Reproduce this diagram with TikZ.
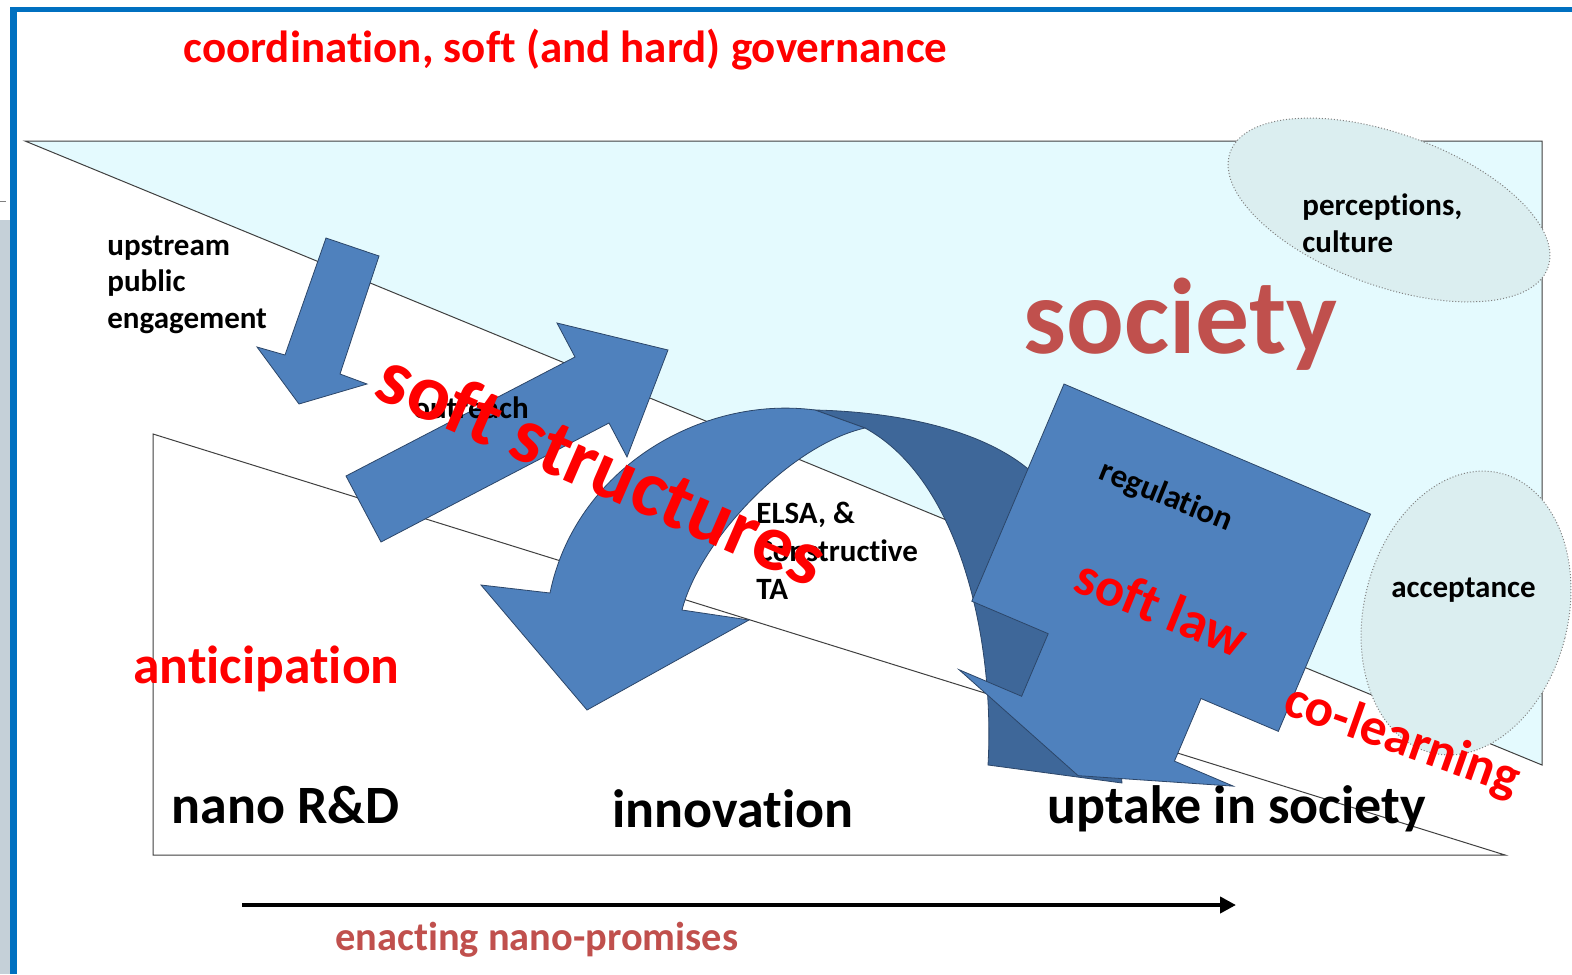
\documentclass[tikz,border=0pt]{standalone}
\usepackage{fontspec}
\setmainfont{Carlito}[Ligatures=NoCommon]
\usetikzlibrary{positioning, arrows.meta, shapes.geometric}

\definecolor{frameblue}{RGB}{0,112,192}
\definecolor{stripgray}{RGB}{197,208,216}
\definecolor{societycyan}{RGB}{228,250,254}
\definecolor{bubblefill}{RGB}{219,238,240}
\definecolor{arrowblue}{RGB}{79,129,189}
\definecolor{arrowdark}{RGB}{62,103,153}
\definecolor{arrowedge}{RGB}{44,70,105}
\definecolor{labelred}{RGB}{255,0,0}
\definecolor{brick}{RGB}{192,80,77}

\newcommand{\fsz}[1]{\fontsize{#1}{#1}\selectfont}

\tikzset{
  zone/.style={draw=black!75, line width=0.5pt},
  blockarrow/.style={fill=arrowblue, draw=arrowedge, line width=0.4pt},
  backarrow/.style={fill=arrowdark, draw=arrowedge, line width=0.4pt},
  bubble/.style={ellipse, fill=bubblefill, draw=gray, densely dotted, line width=0.5pt, inner sep=0pt},
  smalltext/.style={font=\bfseries\fsz{15.5}, text=black, inner sep=0pt, anchor=base west},
  stagetext/.style={font=\bfseries\fsz{27}, text=black, inner sep=0pt, anchor=base west},
  redtext/.style={font=\bfseries\fsz{26.5}, text=labelred, inner sep=0pt},
  promise/.style={line width=2pt, -{Triangle[length=8pt, width=8pt]}}
}

\begin{document}
\begin{tikzpicture}[x=0.5pt, y=-0.5pt]
  \useasboundingbox (0,0) rectangle (1572,974);
  \fill[white] (0,0) rectangle (1572,974);

  % slide margin and frame
  \fill[stripgray] (0,220) rectangle (9.5,974);
  \draw[gray, dashed, line width=0.5pt] (0,201) -- (9.5,201);
  \fill[frameblue] (9.5,7) rectangle (16.5,974);
  \fill[frameblue] (9.5,7) rectangle (1572,12.5);

  % society and development zones
  \coordinate (s1) at (25,141);
  \coordinate (s2) at (1542,141);
  \coordinate (s3) at (1542,765);
  \filldraw[zone, fill=societycyan] (s1) -- (s2) -- (s3) -- cycle;
  \coordinate (d1) at (153,434);
  \coordinate (d2) at (153,855);
  \coordinate (d3) at (1505,855);
  \filldraw[zone, fill=white] (d1) -- (d2) -- (d3) -- cycle;

  % bubbles
  \node[bubble, minimum width=169pt, minimum height=76pt, rotate=-20] (percbubble) at (1389,210) {};
  \node[bubble, minimum width=102pt, minimum height=144pt, rotate=-14] (accbubble) at (1466,613) {};

  % labels
  \node[font=\bfseries\fsz{22.5}, text=labelred, inner sep=0pt, anchor=base west] (title) at (183,63)
    {coordination, soft (and hard) governance};
  \foreach \txt [count=\k] in {upstream, public, engagement}
    \node[smalltext] (upstream\k) at (107, 255+36.5*\k-36.5) {\txt};
  \foreach \txt [count=\k] in {{perceptions,}, culture}
    \node[smalltext] (percep\k) at (1302, 215+37*\k-37) {\txt};
  \node[smalltext] (accept) at (1391,597) {acceptance};
  \node[font=\bfseries\fsz{53.8}, text=brick, inner sep=0pt, anchor=base west] (society) at (1023,353) {society};
  \node[font=\bfseries\fsz{26.8}, text=labelred, inner sep=0pt, anchor=base west] (anticip) at (133,683) {anticipation};
  \node[stagetext] (nanord) at (171,823) {nano R\&D};
  \node[stagetext] (innov) at (612,827) {innovation};
  \node[stagetext] (uptake) at (1047,823) {uptake in society};

  % enacting promises
  \coordinate (promstart) at (242,905);
  \coordinate (promend) at (1236,905);
  \draw[promise] (promstart) -- (promend);
  \node[font=\bfseries\fsz{20.2}, text=brick, inner sep=0pt, anchor=base west] (enact) at (335,950) {enacting nano-promises};

  % upstream engagement arrow
  \filldraw[blockarrow] (326,238) -- (379,256) -- (340,374) -- (367,384) -- (299,404) -- (257,347) -- (285,355) -- cycle;
  % outreach arrow
  \filldraw[blockarrow] (346,476) -- (575,357) -- (557,323) -- (668,350) -- (627,457) -- (609,423) -- (381,542) -- cycle;
  % curved arrow, back
  \filldraw[backarrow] (815,410) .. controls (900,412) and (980,430) .. (1027,468) -- (1100,560) -- (1122,783)
    -- (988,765) .. controls (995,640) and (960,480) .. (865,428) -- cycle;
  % curved arrow, front
  \filldraw[blockarrow] (550,593) .. controls (575,470) and (700,395) .. (815,410) -- (865,428)
    .. controls (790,445) and (700,540) .. (682,610) -- (749,620) -- (587,710) -- (481,585) -- cycle;
  % regulation callout
  \begin{scope}[shift={(1064,384)}, rotate=-23]
    \filldraw[blockarrow] (0,0) -- (333,0) -- (333,236) -- (249,236) -- (249,304) -- (313,304)
      -- (166,355) -- (15,304) -- (83,304) -- (83,236) -- (0,236) -- cycle;
  \end{scope}

  % labels on the arrows
  \node[smalltext] (outreach) at (413,418) {outreach};
  \foreach \txt [count=\k] in {{ELSA, \&}, Constructive, TA}
    \node[smalltext] (elsa\k) at (756, 523+38*\k-38) {\txt};
  \node[smalltext, anchor=center, font=\bfseries\fsz{16.5}, rotate=-22] (regul) at (1166,497) {regulation};
  \node[redtext, font=\bfseries\fsz{27.2}, rotate=-22] (softlaw) at (1162,607) {soft law};
  \node[redtext, font=\bfseries\fsz{40}, rotate=-23.5] (softstruct) at (603,467) {soft structures};
  \node[redtext, rotate=-19.5] (colearn) at (1402,741) {co-learning};
\end{tikzpicture}
\end{document}
